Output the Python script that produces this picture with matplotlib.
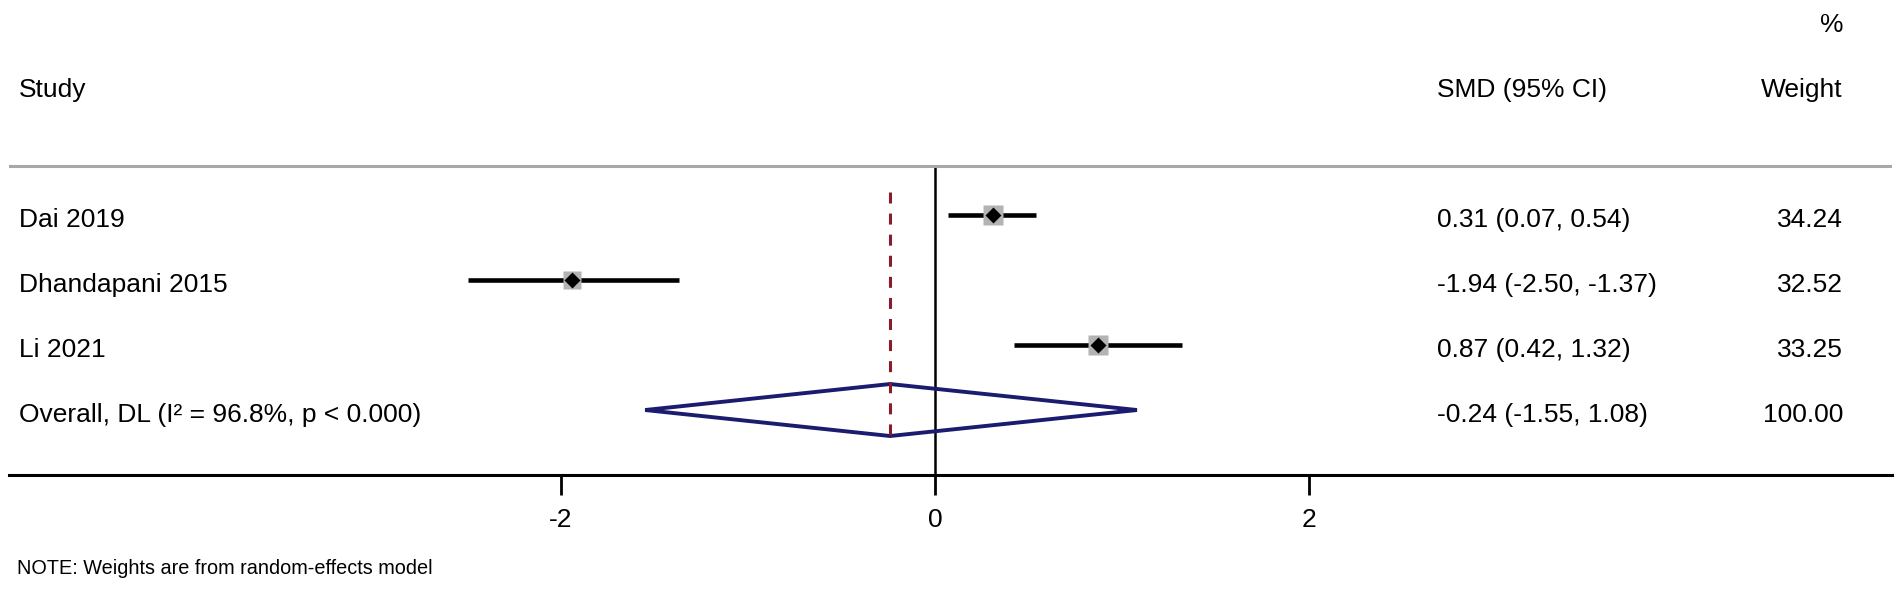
import matplotlib
matplotlib.use('Agg')
import matplotlib.pyplot as plt
from matplotlib.patches import Polygon

plt.rcParams['font.family'] = ['Liberation Sans', 'DejaVu Sans']

studies = ['Dai 2019', 'Dhandapani 2015', 'Li 2021']
smd = [0.31, -1.94, 0.87]
lo = [0.07, -2.50, 0.42]
hi = [0.54, -1.37, 1.32]
weights = [34.24, 32.52, 33.25]

overall_label = 'Overall, DL (I\u00b2 = 96.8%, p < 0.000)'
overall = -0.24
overall_lo = -1.55
overall_hi = 1.08

xticks = [-2, 0, 2]

fig = plt.figure(figsize=(19.02, 5.91), dpi=100)
ax = fig.add_axes([9 / 1902, 116 / 591, 1883 / 1902, 475 / 591])
ax.set_xlim(-4.952, 5.118)
ax.set_ylim(5, -2.31)

for s in ['top', 'left', 'right']:
    ax.spines[s].set_visible(False)
ax.spines['bottom'].set_linewidth(2.2)
ax.set_yticks([])
ax.set_xticks(xticks)
ax.set_xticklabels([str(t) for t in xticks])
ax.tick_params(axis='x', length=14.4, width=2, direction='out', labelsize=19, pad=9.4)

rows = [1, 2, 3]
orow = 4

# header line, null line, overall line
ax.axhline(0.25, color='#a8a8a8', lw=2.2)
ax.plot([0, 0], [0.25, 5], color='black', lw=1.8, zorder=1)
ax.plot([overall, overall], [0.65, 4.49], color='#8b1a2b', lw=2.2,
        linestyle=(0, (3.6, 3.3)), zorder=3)

# study estimates
ax.hlines(rows, lo, hi, color='black', lw=3.3, capstyle='butt', zorder=2)
for r, e, w in zip(rows, smd, weights):
    ax.plot(e, r, marker='s', ms=13.7 * (w / 33.3) ** 0.5, color='#b3b3b3',
            mec='none', zorder=3)
    ax.plot(e, r, marker='D', ms=7.8, color='black', mec='none', zorder=4)

# overall diamond
d = Polygon([(overall_lo, orow), (overall, orow - 0.4), (overall_hi, orow),
             (overall, orow + 0.4)], closed=True, fill=False,
            edgecolor='#1b1b70', lw=2.8, joinstyle='miter', zorder=2)
ax.add_patch(d)

# text columns
fs = 19
xl, xc, xw = -4.90, 2.684, 4.856
ax.text(xl, -0.815, 'Study', fontsize=fs, va='baseline')
ax.text(xc, -0.815, 'SMD (95% CI)', fontsize=fs, va='baseline')
ax.text(xw, -0.815, 'Weight', fontsize=fs, va='baseline', ha='right')
ax.text(xw, -1.815, '%', fontsize=fs, va='baseline', ha='right')

for r, name, e, a, b, w in zip(rows, studies, smd, lo, hi, weights):
    ax.text(xl, r + 0.185, name, fontsize=fs, va='baseline')
    ax.text(xc, r + 0.185, f'{e:.2f} ({a:.2f}, {b:.2f})', fontsize=fs, va='baseline')
    ax.text(xw, r + 0.185, f'{w:.2f}', fontsize=fs, va='baseline', ha='right')

ax.text(xl, orow + 0.185, overall_label, fontsize=fs, va='baseline')
ax.text(xc, orow + 0.185, f'{overall:.2f} ({overall_lo:.2f}, {overall_hi:.2f})',
        fontsize=fs, va='baseline')
ax.text(xw, orow + 0.185, '100.00', fontsize=fs, va='baseline', ha='right')

fig.text(17 / 1902, 1 - 574 / 591, 'NOTE: Weights are from random-effects model',
         fontsize=14.3, va='baseline')

fig.savefig('out.png', dpi=100)
